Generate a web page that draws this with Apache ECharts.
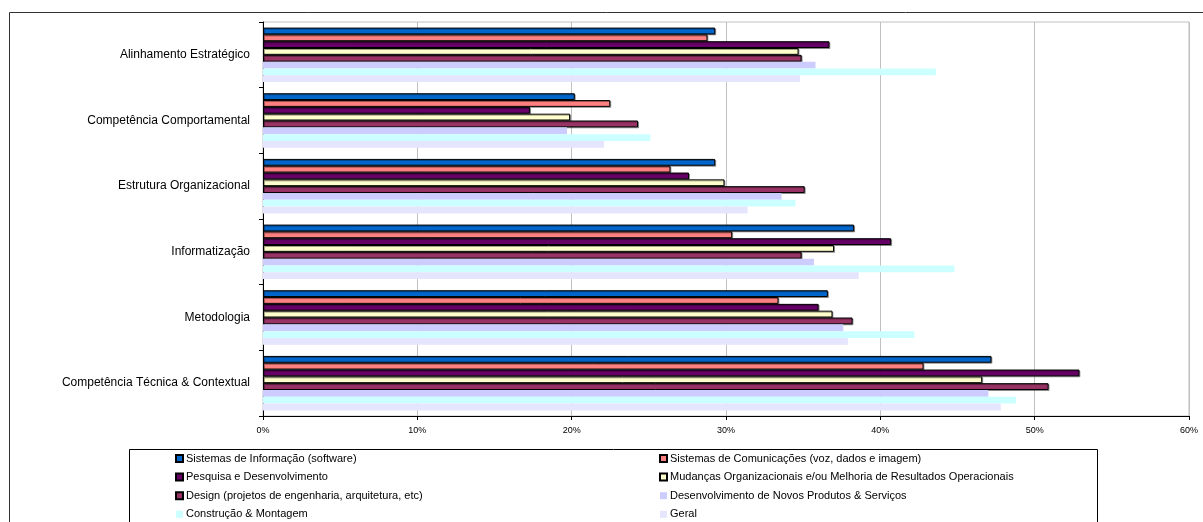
<!DOCTYPE html>
<html>
<head>
<meta charset="utf-8">
<script src="https://cdn.jsdelivr.net/npm/echarts@6/dist/echarts.min.js"></script>
<style>
  html, body { margin: 0; padding: 0; background: #fff; }
  #chart { width: 1203px; height: 522px; }
</style>
</head>
<body>
<div id="chart"></div>
<script>
// Competence areas (top to bottom)
const categories = [
  'Alinhamento Estratégico',
  'Competência Comportamental',
  'Estrutura Organizacional',
  'Informatização',
  'Metodologia',
  'Competência Técnica & Contextual'
];

// Share (%) per project type, one value per category above
const sistemasInformacao   = [29.3, 20.2, 29.3, 38.3, 36.6, 47.2];
const sistemasComunicacoes = [28.8, 22.5, 26.4, 30.4, 33.4, 42.8];
const pesquisa             = [36.7, 17.3, 27.6, 40.7, 36.0, 52.9];
const mudancas             = [34.7, 19.9, 29.9, 37.0, 36.9, 46.6];
const design               = [34.9, 24.3, 35.1, 34.9, 38.2, 50.9];
const novosProdutos        = [35.8, 19.7, 33.6, 35.7, 37.6, 47.0];
const construcao           = [43.6, 25.1, 34.5, 44.8, 42.2, 48.8];
const geral                = [34.8, 22.1, 31.4, 38.6, 37.9, 47.8];

const xTicks = [0, 10, 20, 30, 40, 50, 60];

const seriesDefs = [
  { name: 'Sistemas de Informação (software)', data: sistemasInformacao, color: '#0066CC', edge: true },
  { name: 'Sistemas de Comunicações (voz, dados e imagem)', data: sistemasComunicacoes, color: '#FF8080', edge: true },
  { name: 'Pesquisa e Desenvolvimento', data: pesquisa, color: '#660066', edge: true },
  { name: 'Mudanças Organizacionais e/ou Melhoria de Resultados Operacionais', data: mudancas, color: '#FFFFCC', edge: true },
  { name: 'Design (projetos de engenharia, arquitetura, etc)', data: design, color: '#993366', edge: true },
  { name: 'Desenvolvimento de Novos Produtos & Serviços', data: novosProdutos, color: '#CCCCFF', edge: false },
  { name: 'Construção & Montagem', data: construcao, color: '#CCFFFF', edge: false },
  { name: 'Geral', data: geral, color: '#E5E5FD', edge: false }
];

const series = seriesDefs.map(s => ({
  name: s.name,
  type: 'bar',
  data: s.data,
  barGap: '0%',
  barCategoryGap: '17%',
  itemStyle: s.edge
    ? { color: s.color, borderColor: '#000', borderWidth: 1,
        shadowColor: 'rgba(0,0,0,0.35)', shadowOffsetX: 1, shadowOffsetY: 1, shadowBlur: 0 }
    : { color: s.color, borderWidth: 0 },
  emphasis: { disabled: true },
  animation: false
}));

const legendText = { fontFamily: 'Liberation Sans, Arial, sans-serif', fontSize: 11, color: '#000', padding: [0, 0, 0, -2] };
const leftNames = seriesDefs.filter((_, i) => i % 2 === 0).map(s => s.name);
const rightNames = seriesDefs.filter((_, i) => i % 2 === 1).map(s => s.name);

const chart = echarts.init(document.getElementById('chart'), null, { renderer: 'canvas' });
chart.setOption({
  animation: false,
  backgroundColor: '#fff',
  grid: { left: 263, top: 22, right: 14, bottom: 106, containLabel: false,
          show: true, borderColor: '#C0C0C0', borderWidth: 1 },
  xAxis: {
    type: 'value', min: 0, max: 60, interval: 10,
    axisLine: { show: true, lineStyle: { color: '#000', width: 1 } },
    axisTick: { show: true, length: 4, lineStyle: { color: '#000' } },
    splitLine: { show: true, lineStyle: { color: '#C0C0C0', width: 1 } },
    axisLabel: {
      formatter: v => xTicks.includes(v) ? v + '%' : '',
      fontFamily: 'Liberation Sans, Arial, sans-serif', fontSize: 9, color: '#000', margin: 10
    }
  },
  yAxis: {
    type: 'category', data: categories, inverse: true,
    axisLine: { show: true, lineStyle: { color: '#000', width: 1 } },
    axisTick: { show: true, length: 4, lineStyle: { color: '#000' } },
    splitLine: { show: false },
    axisLabel: { fontFamily: 'Liberation Sans, Arial, sans-serif', fontSize: 12, color: '#000', margin: 13 }
  },
  legend: [
    { data: leftNames, left: 175, top: 453, orient: 'vertical', itemWidth: 7, itemHeight: 7,
      itemGap: 7.6, icon: 'rect', textStyle: legendText, selectedMode: false, padding: 0 },
    { data: rightNames, left: 659, top: 453, orient: 'vertical', itemWidth: 7, itemHeight: 7,
      itemGap: 7.6, icon: 'rect', textStyle: legendText, selectedMode: false, padding: 0 }
  ],
  graphic: [
    { type: 'rect', left: 7, top: 10, shape: { x: 0, y: 0, width: 1210, height: 540 },
      style: { fill: 'none', stroke: '#333', lineWidth: 1 }, silent: true, z: -1 },
    { type: 'rect', left: 127, top: 447, shape: { x: 0, y: 0, width: 968, height: 90 },
      style: { fill: 'none', stroke: '#000', lineWidth: 1 }, silent: true, z: -1 }
  ],
  series: series
});
</script>
</body>
</html>
